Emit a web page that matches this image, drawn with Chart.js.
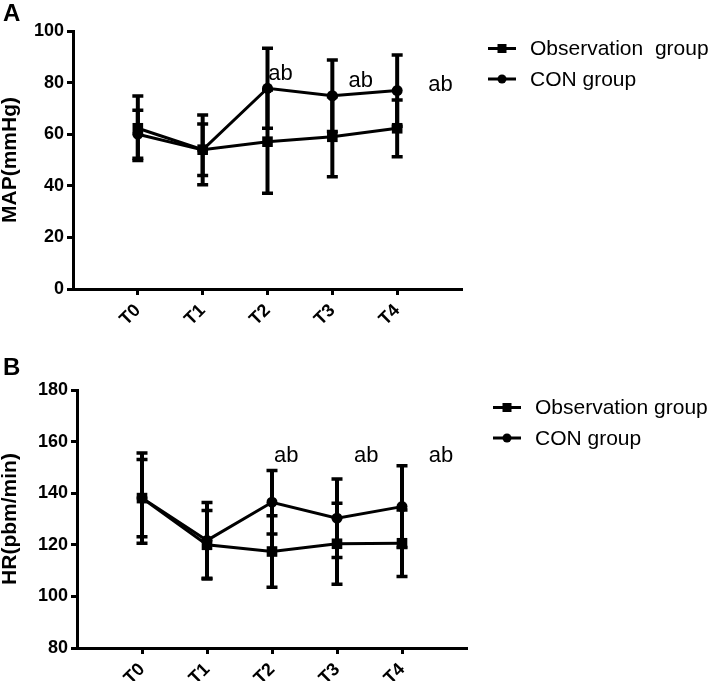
<!DOCTYPE html>
<html>
<head>
<meta charset="utf-8">
<script src="https://cdn.jsdelivr.net/npm/chart.js@4"></script>
<style>
  body { margin: 0; background: #fff; }
  canvas { display: block; }
</style>
</head>
<body>
<canvas id="mapChart" width="709" height="342"></canvas>
<canvas id="hrChart" width="709" height="343"></canvas>
<script>
// Time points
const timeLabels = ['T0', 'T1', 'T2', 'T3', 'T4'];
const groupNames = ['Observation group', 'CON group'];

// Panel A - MAP (mmHg), mean and SD
const mapObsMean = [62.3, 54.0, 57.1, 59.0, 62.3];
const mapObsSd = [12.5, 10.0, 20.0, 15.5, 11.0];
const mapConMean = [60.0, 53.9, 77.8, 74.9, 76.9];
const mapConSd = [9.3, 13.5, 15.5, 13.9, 13.8];
const mapTicks = [0, 20, 40, 60, 80, 100];

// Panel B - HR (pbm/min), mean and SD
const hrObsMean = [138.1, 120.0, 117.4, 120.4, 120.6];
const hrObsSd = [17.5, 13.3, 13.9, 15.7, 12.9];
const hrConMean = [138.1, 121.7, 136.5, 130.3, 134.8];
const hrConSd = [15.0, 14.7, 12.3, 15.2, 15.8];
const hrTicks = [80, 100, 120, 140, 160, 180];

// "ab" significance marks (x in time-point units, y = text baseline)
const mapAbX = [2.2, 3.44, 4.67];
const mapAbY = [81.0, 78.3, 76.7];
const hrAbX = [2.22, 3.45, 4.6];
const hrAbY = [151.9, 151.9, 151.9];

Chart.defaults.font.family = "'Liberation Sans', Arial, sans-serif";
Chart.defaults.color = '#000';

// error bars, legend, marks and panel letter
const extras = {
    id: 'extras',
    beforeDatasetsDraw(chart, args, opts) {
        const ctx = chart.ctx;
        const xs = chart.scales.x, ys = chart.scales.y;
        ctx.save();
        ctx.strokeStyle = '#000';
        opts.sd.forEach((sd, d) => {
            const pts = chart.data.datasets[d].data;
            sd.forEach((s, i) => {
                const px = xs.getPixelForValue(pts[i].x);
                const top = ys.getPixelForValue(pts[i].y + s);
                const bot = ys.getPixelForValue(pts[i].y - s);
                ctx.lineWidth = 4;
                ctx.beginPath();
                ctx.moveTo(px, top);
                ctx.lineTo(px, bot);
                ctx.stroke();
                ctx.lineWidth = 3.5;
                ctx.beginPath();
                ctx.moveTo(px - 5.5, top); ctx.lineTo(px + 5.5, top);
                ctx.moveTo(px - 5.5, bot); ctx.lineTo(px + 5.5, bot);
                ctx.stroke();
            });
        });
        ctx.restore();
    },
    afterDraw(chart, args, opts) {
        const ctx = chart.ctx;
        const xs = chart.scales.x, ys = chart.scales.y;
        const area = chart.chartArea;
        ctx.save();
        ctx.fillStyle = '#000';
        ctx.strokeStyle = '#000';

        // ab marks
        ctx.font = "22px 'Liberation Sans', Arial, sans-serif";
        ctx.textAlign = 'center';
        ctx.textBaseline = 'alphabetic';
        opts.abX.forEach((v, i) => {
            ctx.fillText('ab', xs.getPixelForValue(v), ys.getPixelForValue(opts.abY[i]));
        });

        // legend
        ctx.font = "21px 'Liberation Sans', Arial, sans-serif";
        ctx.textAlign = 'left';
        ctx.textBaseline = 'middle';
        const lx = area.right + 26;
        opts.legendNames.forEach((name, i) => {
            const ly = area.top + 17.5 + i * 30.5;
            ctx.lineWidth = 3;
            ctx.beginPath();
            ctx.moveTo(lx, ly);
            ctx.lineTo(lx + 28, ly);
            ctx.stroke();
            ctx.beginPath();
            if (chart.data.datasets[i].pointStyle === 'rect') {
                ctx.rect(lx + 14 - 4.5, ly - 4.5, 9, 9);
            } else {
                ctx.arc(lx + 14, ly, 4.5, 0, Math.PI * 2);
            }
            ctx.fill();
            ctx.fillText(name, lx + 42, ly + 1);
        });

        // panel letter
        ctx.font = "bold 24px 'Liberation Sans', Arial, sans-serif";
        ctx.textBaseline = 'alphabetic';
        ctx.fillText(opts.letter, 3, opts.letterY);
        ctx.restore();
    }
};

function makePanel(id, cfg) {
    new Chart(document.getElementById(id), {
        type: 'line',
        data: {
            datasets: [{
                label: groupNames[0],
                data: cfg.obsMean.map((v, i) => ({ x: i, y: v })),
                borderColor: '#000',
                borderWidth: 3,
                pointStyle: 'rect',
                pointRadius: 7.5,
                pointBackgroundColor: '#000',
                pointBorderColor: '#000',
                pointBorderWidth: 0
            }, {
                label: groupNames[1],
                data: cfg.conMean.map((v, i) => ({ x: i, y: v })),
                borderColor: '#000',
                borderWidth: 3,
                pointStyle: 'circle',
                pointRadius: 5.5,
                pointBackgroundColor: '#000',
                pointBorderColor: '#000',
                pointBorderWidth: 0
            }]
        },
        options: {
            responsive: false,
            animation: false,
            events: [],
            layout: { padding: cfg.padding },
            plugins: {
                legend: { display: false },
                tooltip: { enabled: false },
                extras: {
                    sd: [cfg.obsSd, cfg.conSd],
                    abX: cfg.abX,
                    abY: cfg.abY,
                    legendNames: cfg.legendNames,
                    letter: cfg.letter,
                    letterY: cfg.letterY
                }
            },
            scales: {
                x: {
                    type: 'linear',
                    min: -1,
                    max: timeLabels.length,
                    afterBuildTicks: s => { s.ticks = timeLabels.map((t, i) => ({ value: i })); },
                    afterFit: s => { s.height = cfg.xHeight; },
                    grid: { drawOnChartArea: false, tickLength: 6, tickWidth: 3, color: '#000' },
                    border: { color: '#000', width: 3 },
                    ticks: {
                        autoSkip: false,
                        minRotation: 45,
                        maxRotation: 45,
                        padding: 5,
                        font: { size: 18, weight: 'bold' },
                        callback: v => timeLabels[v]
                    }
                },
                y: {
                    min: cfg.yTicks[0],
                    max: cfg.yTicks[cfg.yTicks.length - 1],
                    afterBuildTicks: s => { s.ticks = cfg.yTicks.map(v => ({ value: v })); },
                    afterFit: s => { s.width = cfg.yWidth; },
                    grid: { drawOnChartArea: false, tickLength: 6, tickWidth: 3, color: '#000' },
                    border: { color: '#000', width: 3 },
                    ticks: { padding: 3, font: { size: 18, weight: 'bold' } },
                    title: {
                        display: true,
                        text: cfg.title,
                        padding: 0,
                        font: { size: 21, weight: 'bold', lineHeight: 1 }
                    }
                }
            }
        },
        plugins: [extras]
    });
}

makePanel('mapChart', {
    obsMean: mapObsMean, obsSd: mapObsSd,
    conMean: mapConMean, conSd: mapConSd,
    yTicks: mapTicks, title: 'MAP(mmHg)',
    abX: mapAbX, abY: mapAbY,
    legendNames: ['Observation  group', 'CON group'],
    letter: 'A', letterY: 21,
    padding: { top: 31, right: 247, bottom: 8, left: 0 },
    yWidth: 73, xHeight: 45
});

makePanel('hrChart', {
    obsMean: hrObsMean, obsSd: hrObsSd,
    conMean: hrConMean, conSd: hrConSd,
    yTicks: hrTicks, title: 'HR(pbm/min)',
    abX: hrAbX, abY: hrAbY,
    legendNames: ['Observation group', 'CON group'],
    letter: 'B', letterY: 33,
    padding: { top: 48, right: 242, bottom: 4, left: 0 },
    yWidth: 77, xHeight: 33
});
</script>
</body>
</html>
